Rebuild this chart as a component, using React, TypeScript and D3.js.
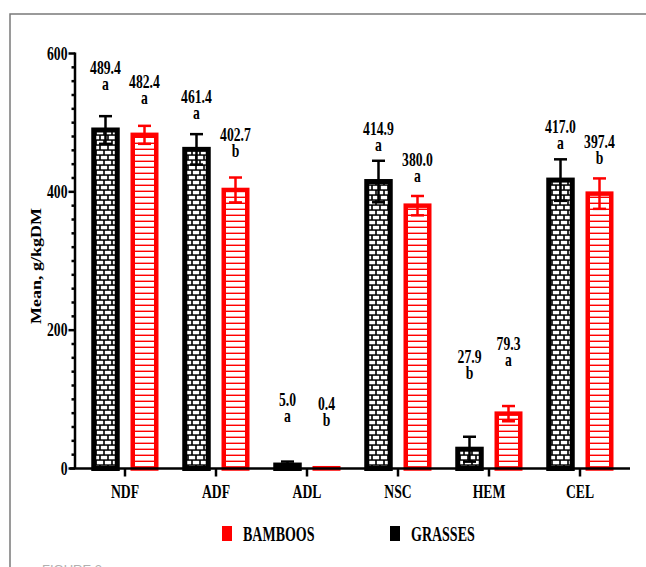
import * as d3 from 'd3';
import React, { useRef, useEffect } from 'react';

// fibre fractions, g/kg DM
const categories = ["NDF", "ADF", "ADL", "NSC", "HEM", "CEL"];
const grasses = [489.4, 461.4, 5.0, 414.9, 27.9, 417.0];
const grassesErr = [20, 22, 5, 30, 18, 30];
const grassesLetters = ["a", "a", "a", "a", "b", "a"];
// level (g/kg DM) where each value annotation sits in the figure
const grassesLabelAt = [571, 528, 91, 482, 153, 485];
const bamboos = [482.4, 402.7, 0.4, 380.0, 79.3, 397.4];
const bamboosErr = [13, 18, 0, 14, 11, 22];
const bamboosLetters = ["a", "b", "b", "a", "a", "b"];
const bamboosLabelAt = [550, 474, 84, 438, 171, 463];
const yTicks = [0, 200, 400, 600];
const yMinorTicks = d3.range(0, 601, 20);
const legendItems = [
  { name: "BAMBOOS", color: "#ff0000" },
  { name: "GRASSES", color: "#000000" },
];

const FONT = "Liberation Serif, Times New Roman, serif";
const RED = "#ff0000";

function App() {
  const ref = useRef<SVGSVGElement>(null);

  useEffect(() => {
    const width = 646;
    const height = 567;
    const svg = d3.select(ref.current);
    svg.selectAll("*").remove();

    const x = d3.scaleBand<string>().domain(categories).range([79.5, 625.5]);
    const y = d3.scaleLinear().domain([0, 600]).range([468.5, 53.5]);
    const center = (c: string) => (x(c) as number) + x.bandwidth() / 2;
    const barW = 23.5;
    const offset = 19.5;

    // squeezed serif text (the figure was compressed horizontally)
    const txt = (g: any, tx: number, ty: number, s: string, size: number, anchor = "middle", sx = 0.76) =>
      g.append("text")
        .attr("transform", `translate(${tx},${ty}) scale(${sx},1)`)
        .attr("text-anchor", anchor)
        .attr("font-family", FONT)
        .attr("font-weight", "bold")
        .attr("font-size", size)
        .attr("fill", "#000")
        .text(s);

    const defs = svg.append("defs");
    const brick = defs.append("pattern")
      .attr("id", "brick").attr("patternUnits", "userSpaceOnUse")
      .attr("width", 8).attr("height", 10);
    brick.append("rect").attr("width", 8).attr("height", 10).attr("fill", "#000");
    brick.append("rect").attr("x", 0.8).attr("y", 0.8).attr("width", 6.4).attr("height", 3.5).attr("fill", "#fff");
    brick.append("rect").attr("x", -3.2).attr("y", 5.8).attr("width", 6.4).attr("height", 3.5).attr("fill", "#fff");
    brick.append("rect").attr("x", 4.8).attr("y", 5.8).attr("width", 6.4).attr("height", 3.5).attr("fill", "#fff");

    const stripes = defs.append("pattern")
      .attr("id", "stripes").attr("patternUnits", "userSpaceOnUse")
      .attr("width", 8).attr("height", 6);
    stripes.append("rect").attr("width", 8).attr("height", 6).attr("fill", "#fff");
    stripes.append("rect").attr("y", 4.6).attr("width", 8).attr("height", 1.4).attr("fill", RED);

    // frame
    svg.append("path")
      .attr("d", `M10,${height} V14 H${width}`)
      .attr("fill", "none").attr("stroke", "#7a7a7a").attr("stroke-width", 1.5);

    const series = [
      { vals: grasses, err: grassesErr, letters: grassesLetters, at: grassesLabelAt, dx: -offset, color: "#000", fill: "url(#brick)", sw: 5 },
      { vals: bamboos, err: bamboosErr, letters: bamboosLetters, at: bamboosLabelAt, dx: offset, color: RED, fill: "url(#stripes)", sw: 4.5 },
    ];

    series.forEach(s => {
      const g = svg.append("g");
      categories.forEach((c, i) => {
        const cx = center(c) + s.dx;
        const v = s.vals[i];
        const e = s.err[i];
        const top = y(v);
        g.append("rect")
          .attr("x", cx - barW / 2).attr("y", top)
          .attr("width", barW).attr("height", Math.max(0, y(0) - top))
          .attr("fill", s.fill).attr("stroke", s.color).attr("stroke-width", s.sw);
        if (e > 0) {
          const eb = g.append("g").attr("stroke", s.color).attr("stroke-width", 2.5);
          eb.append("line").attr("x1", cx).attr("x2", cx).attr("y1", y(v + e)).attr("y2", y(Math.max(0, v - e)));
          eb.append("line").attr("x1", cx - 6.5).attr("x2", cx + 6.5).attr("y1", y(v + e)).attr("y2", y(v + e));
          eb.append("line").attr("x1", cx - 6.5).attr("x2", cx + 6.5)
            .attr("y1", y(Math.max(0, v - e))).attr("y2", y(Math.max(0, v - e)));
        }
        const ly = y(s.at[i]);
        txt(g, cx, ly, v.toFixed(1), 18);
        txt(g, cx, ly + 16, s.letters[i], 18);
      });
    });

    // y axis
    const ya = svg.append("g").attr("stroke", "#000").attr("stroke-width", 2.5);
    ya.append("line").attr("x1", 75).attr("x2", 75).attr("y1", y(600) - 1).attr("y2", y(0));
    yMinorTicks.forEach(t => {
      ya.append("line").attr("x1", yTicks.includes(t) ? 68.5 : 71.5).attr("x2", 75)
        .attr("y1", y(t)).attr("y2", y(t));
    });
    yTicks.forEach(t => txt(svg, 67.5, y(t) + 6, String(t), 18, "end"));

    // x axis
    svg.append("line").attr("x1", 70).attr("x2", 630).attr("y1", y(0)).attr("y2", y(0))
      .attr("stroke", "#000").attr("stroke-width", 2.5);
    const xa = svg.append("g")
      .attr("transform", `translate(0,${y(0)})`)
      .call(d3.axisBottom(x).tickSize(8).tickSizeOuter(0));
    xa.select(".domain").remove();
    xa.selectAll(".tick line").attr("stroke", "#000").attr("stroke-width", 2.5);
    xa.selectAll(".tick text").remove();
    categories.forEach(c => txt(svg, center(c), 498, c, 18));

    // y axis title
    svg.append("text")
      .attr("transform", `translate(41,266) rotate(-90) scale(1,0.8)`)
      .attr("text-anchor", "middle")
      .attr("font-family", FONT).attr("font-weight", "bold").attr("font-size", 18)
      .text("Mean, g/kgDM");

    // legend
    const lx = [222, 390];
    legendItems.forEach((d, i) => {
      svg.append("rect").attr("x", lx[i]).attr("y", 526).attr("width", 10).attr("height", 15).attr("fill", d.color);
      txt(svg, lx[i] + 21, 541, d.name, 20, "start", 0.7);
    });

    // caption cut off at the page edge
    svg.append("text")
      .attr("x", 42).attr("y", 574)
      .attr("font-family", "Liberation Sans, Arial, sans-serif").attr("font-size", 13)
      .attr("fill", "#b0b0b0").text("FIGURE 2");
  }, []);

  return (
    <div style={{ position: "fixed", left: 0, top: 0 }}>
      <svg ref={ref} width={646} height={567} style={{ display: "block", background: "#fff" }}></svg>
    </div>
  );
}

export default App;
